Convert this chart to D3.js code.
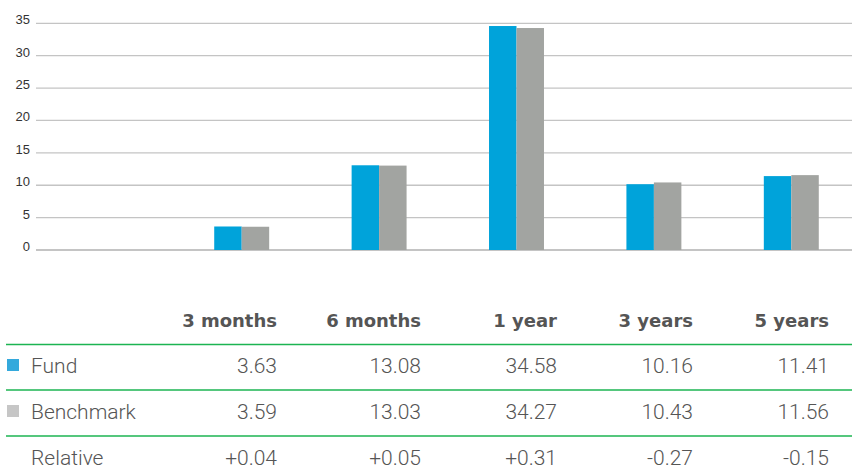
<!DOCTYPE html>
<html>
<head>
<meta charset="utf-8">
<script src="https://cdn.jsdelivr.net/npm/d3@7"></script>
<style>
  body { margin: 0; background: #fff; }
  .tick-label { font-family: "Liberation Sans", Arial, sans-serif; font-size: 13px; fill: #333; }
  .head { font-family: "DejaVu Sans", sans-serif; font-weight: bold; font-size: 18px; fill: #555; }
  .cell { font-family: Roboto, sans-serif; font-weight: 300; font-size: 21px; fill: #555; }
</style>
</head>
<body>
<div class="container"></div>
<script>
// data
var periods = ["3 months", "6 months", "1 year", "3 years", "5 years"];
var fundValues = [3.63, 13.08, 34.58, 10.16, 11.41];
var benchmarkValues = [3.59, 13.03, 34.27, 10.43, 11.56];
var relativeLabels = ["+0.04", "+0.05", "+0.31", "-0.27", "-0.15"];
var yTicks = [0, 5, 10, 15, 20, 25, 30, 35];
var seriesNames = ["Fund", "Benchmark"];

// svg container
var svgWidth = 852;
var svgHeight = 474;

var svg = d3.select(".container")
  .append("svg")
  .attr("width", svgWidth)
  .attr("height", svgHeight);

// chart area
var gridLeft = 36;
var yScale = d3.scaleLinear()
  .domain([0, 35])
  .range([250, 23.3]);

// first slot of the plot is empty, categories start one step in
var xScale = d3.scaleBand()
  .domain(periods)
  .range([173, 860])
  .paddingInner(0.6)
  .paddingOuter(0.3);

var xSeries = d3.scaleBand()
  .domain(seriesNames)
  .range([0, xScale.bandwidth()]);

var colors = { "Fund": "#00a3da", "Benchmark": "#a2a4a1" };

// gridlines + labels
var grid = svg.append("g");
grid.selectAll("line")
  .data(yTicks)
  .enter()
  .append("line")
  .attr("x1", gridLeft)
  .attr("x2", svgWidth)
  .attr("y1", d => yScale(d))
  .attr("y2", d => yScale(d))
  .attr("stroke", d => d === 0 ? "#b0b0b0" : "#c4c4c4")
  .attr("stroke-width", 1.3);

grid.selectAll("text")
  .data(yTicks)
  .enter()
  .append("text")
  .attr("class", "tick-label")
  .attr("x", 30)
  .attr("y", d => yScale(d) + 1)
  .attr("text-anchor", "end")
  .text(d => d);

// bars
var barData = [];
periods.forEach(function(p, i) {
  barData.push({ period: p, series: "Fund", value: fundValues[i] });
  barData.push({ period: p, series: "Benchmark", value: benchmarkValues[i] });
});

svg.append("g").selectAll("rect")
  .data(barData)
  .enter()
  .append("rect")
  .attr("x", d => xScale(d.period) + xSeries(d.series))
  .attr("width", xSeries.bandwidth())
  .attr("y", d => yScale(d.value))
  .attr("height", d => yScale(0) - yScale(d.value))
  .attr("fill", d => colors[d.series]);

// table
var colRight = [277, 421, 557, 693, 829];
var table = svg.append("g");

table.selectAll(".head")
  .data(periods)
  .enter()
  .append("text")
  .attr("class", "head")
  .attr("x", (d, i) => colRight[i])
  .attr("y", 327)
  .attr("text-anchor", "end")
  .text(d => d);

// green rules
table.selectAll(".rule")
  .data([344.5, 390, 436])
  .enter()
  .append("line")
  .attr("class", "rule")
  .attr("x1", 6)
  .attr("x2", svgWidth)
  .attr("y1", d => d)
  .attr("y2", d => d)
  .attr("stroke", "#1cb452")
  .attr("stroke-width", 1.5);

var fmt = d3.format(".2f");
var rows = [
  { name: "Fund", swatch: "#34a9dc", values: fundValues.map(fmt), y: 373 },
  { name: "Benchmark", swatch: "#c6c6c6", values: benchmarkValues.map(fmt), y: 419 },
  { name: "Relative", swatch: null, values: relativeLabels, y: 465 }
];

rows.forEach(function(row) {
  if (row.swatch) {
    table.append("rect")
      .attr("x", 7)
      .attr("y", row.y - 14)
      .attr("width", 12)
      .attr("height", 12)
      .attr("fill", row.swatch);
  }
  table.append("text")
    .attr("class", "cell")
    .attr("x", 31)
    .attr("y", row.y)
    .text(row.name);

  table.selectAll(null)
    .data(row.values)
    .enter()
    .append("text")
    .attr("class", "cell")
    .attr("x", (d, i) => colRight[i])
    .attr("y", row.y)
    .attr("text-anchor", "end")
    .text(d => d);
});
</script>
</body>
</html>
